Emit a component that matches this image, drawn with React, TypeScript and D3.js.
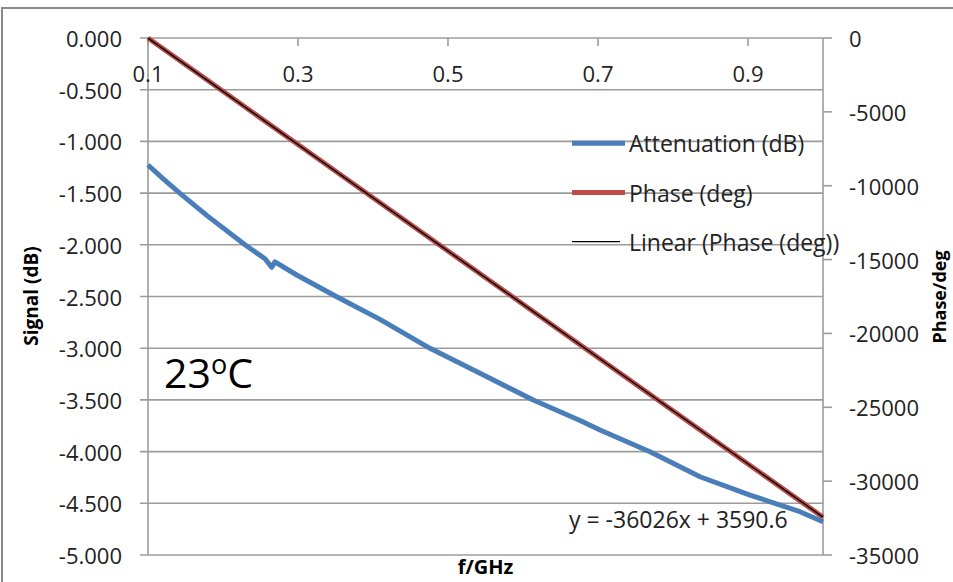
import React from "react";
import * as d3 from "d3";

// Frequency sweep (GHz) and measured attenuation (dB)
const freqGHz = [
  0.1, 0.12, 0.1427, 0.18, 0.2293, 0.256, 0.2649, 0.2693, 0.2983, 0.3516,
  0.4093, 0.476, 0.5427, 0.6137, 0.676, 0.7027, 0.7693, 0.836, 0.9027,
  0.9693, 1.0,
];
const attenuationDb = [
  -1.228, -1.36, -1.502, -1.725, -2.0, -2.135, -2.217, -2.165, -2.292,
  -2.502, -2.721, -3.001, -3.243, -3.501, -3.7, -3.791, -4.001, -4.243,
  -4.42, -4.581, -4.678,
];

// Measured phase (deg) on a coarser frequency grid
const phaseFreqGHz = [0.1, 0.2, 0.3, 0.4, 0.5, 0.6, 0.7, 0.8, 0.9, 1.0];
const phaseDeg = [
  0, -3610, -7215, -10820, -14420, -18020, -21630, -25230, -28835, -32440,
];

// Linear trend of phase vs frequency
const trendSlope = -36026;
const trendIntercept = 3590.6;

// Axis ticks
const xTicks = [0.1, 0.3, 0.5, 0.7, 0.9];
const leftTicks = [0, -0.5, -1, -1.5, -2, -2.5, -3, -3.5, -4, -4.5, -5];
const rightTicks = [0, -5000, -10000, -15000, -20000, -25000, -30000, -35000];

const legendItems = [
  { label: "Attenuation (dB)", color: "#4A7EBB", width: 5 },
  { label: "Phase (deg)", color: "#BE4B48", width: 5 },
  { label: "Linear (Phase (deg))", color: "#000000", width: 1.3 },
];

const W = 953;
const H = 582;
const M = { left: 148, right: 823, top: 38, bottom: 555 };
const FONT = "'Open Sans', sans-serif";
const GRID = "#9c9c9c";

const loc = d3.formatLocale({
  decimal: ".",
  thousands: ",",
  grouping: [3],
  currency: ["$", ""],
  minus: "-",
});
const fmtLeft = loc.format(".3f");
const fmtRight = loc.format("d");

export default function App() {
  const x = d3.scaleLinear().domain([0.1, 1.0]).range([M.left, M.right]);
  const yL = d3.scaleLinear().domain([-5, 0]).range([M.bottom, M.top]);
  const yR = d3.scaleLinear().domain([-35000, 0]).range([M.bottom, M.top]);

  const attLine = d3
    .line<number>()
    .x((_, i) => x(freqGHz[i]))
    .y((d) => yL(d))(attenuationDb) as string;

  const phaseLine = d3
    .line<number>()
    .x((_, i) => x(phaseFreqGHz[i]))
    .y((d) => yR(d))(phaseDeg) as string;

  const [fx0, fx1] = x.domain();
  const trendLine = d3
    .line<number>()
    .x((f) => x(f))
    .y((f) => yR(trendSlope * f + trendIntercept))([fx0, fx1]) as string;

  return (
    <svg
      width={W}
      height={H}
      style={{ position: "absolute", left: 0, top: 0, background: "#fff" }}
      fontFamily={FONT}
    >
      {/* chart frame */}
      <rect x={2} y={8} width={W + 10} height={H + 10} fill="#fff" stroke="#8a8a8a" strokeWidth={2} />

      {/* horizontal gridlines + left ticks */}
      {leftTicks.map((t) => (
        <g key={"gl" + t}>
          <line x1={M.left - 8} x2={M.right} y1={yL(t)} y2={yL(t)} stroke={GRID} strokeWidth={1.6} />
          <text
            x={122}
            y={yL(t)}
            textAnchor="end"
            dominantBaseline="central"
            fontSize={22}
            fill="#222"
          >
            {fmtLeft(t)}
          </text>
        </g>
      ))}

      {/* left and right axis lines */}
      <line x1={M.left} x2={M.left} y1={M.top} y2={M.bottom} stroke={GRID} strokeWidth={1.6} />
      <line x1={M.right} x2={M.right} y1={M.top} y2={M.bottom} stroke={GRID} strokeWidth={1.6} />

      {/* right ticks */}
      {rightTicks.map((t) => (
        <g key={"r" + t}>
          <line x1={M.right} x2={M.right + 9} y1={yR(t)} y2={yR(t)} stroke={GRID} strokeWidth={1.6} />
          <text x={849} y={yR(t)} dominantBaseline="central" fontSize={22} fill="#222">
            {fmtRight(t)}
          </text>
        </g>
      ))}

      {/* x axis along the top */}
      {xTicks.map((t) => (
        <g key={"x" + t}>
          <line x1={x(t)} x2={x(t)} y1={M.top} y2={M.top + 8} stroke={GRID} strokeWidth={1.6} />
          <text x={x(t)} y={73} textAnchor="middle" dominantBaseline="central" fontSize={22} fill="#222">
            {t.toFixed(1)}
          </text>
        </g>
      ))}

      {/* series */}
      <path d={attLine} fill="none" stroke="#4A7EBB" strokeWidth={5} strokeLinejoin="round" />
      <path d={phaseLine} fill="none" stroke="#BE4B48" strokeWidth={5} strokeLinejoin="round" />
      <path d={trendLine} fill="none" stroke="#000" strokeWidth={1.4} />

      {/* legend */}
      {legendItems.map((it, i) => {
        const ly = 143.3 + i * 49.2;
        return (
          <g key={it.label}>
            <line
              x1={572}
              x2={it.width > 2 ? 625 : 620}
              y1={ly}
              y2={ly}
              stroke={it.color}
              strokeWidth={it.width}
            />
            <text x={629} y={ly} dominantBaseline="central" fontSize={23} fill="#222">
              {it.label}
            </text>
          </g>
        );
      })}

      {/* trendline equation */}
      <text x={569} y={528} fontSize={23} fill="#222">
        {`y = ${fmtRight(trendSlope)}x + ${trendIntercept}`}
      </text>

      {/* temperature annotation */}
      <text x={164} y={388} fontSize={41} fill="#000">
        23
        <tspan fontSize={27} dy={-14}>o</tspan>
        <tspan fontSize={41} dy={14}>C</tspan>
      </text>

      {/* axis titles */}
      <text
        transform={`translate(38, 296) rotate(-90)`}
        textAnchor="middle"
        fontSize={19}
        fontWeight="bold"
        fill="#000"
      >
        Signal (dB)
      </text>
      <text
        transform={`translate(946, 297) rotate(-90)`}
        textAnchor="middle"
        fontSize={18}
        fontWeight="bold"
        fill="#000"
      >
        Phase/deg
      </text>
      <text x={(M.left + M.right) / 2} y={574} textAnchor="middle" fontSize={20} fontWeight="bold" fill="#000">
        f/GHz
      </text>
    </svg>
  );
}
